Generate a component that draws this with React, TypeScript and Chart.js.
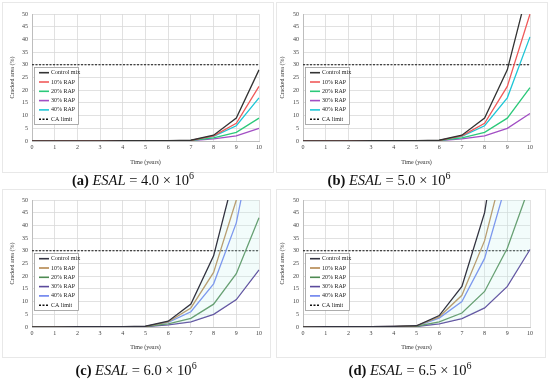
import React, { useEffect, useRef } from "react";
import { Chart, registerables } from "chart.js";

Chart.register(...registerables);

// ---------- data ----------
const YEARS = ["0", "1", "2", "3", "4", "5", "6", "7", "8", "9", "10"];
const SERIES_LABELS = ["Control mix", "10% RAP", "20% RAP", "30% RAP", "40% RAP"];
const CA_LIMIT_LABEL = "CA limit";
const CA_LIMIT = 30;
const Y_MAX = 50;
const Y_STEP = 5;
const X_TITLE = "Time (years)";
const Y_TITLE = "Cracked area (%)";

// (a) ESAL = 4.0 x 10^6
const A_CONTROL = [0, 0.02, 0.05, 0.08, 0.1, 0.13, 0.18, 0.3, 2.3, 9.0, 28.0];
const A_RAP10 = [0, 0.02, 0.05, 0.07, 0.09, 0.12, 0.16, 0.27, 2.0, 7.0, 21.5];
const A_RAP20 = [0, 0.01, 0.03, 0.05, 0.07, 0.09, 0.12, 0.2, 1.2, 3.4, 9.0];
const A_RAP30 = [0, 0.01, 0.02, 0.04, 0.05, 0.07, 0.1, 0.15, 0.8, 2.0, 5.0];
const A_RAP40 = [0, 0.02, 0.04, 0.06, 0.08, 0.11, 0.15, 0.25, 1.8, 6.0, 17.0];

// (b) ESAL = 5.0 x 10^6
const B_CONTROL = [0, 0.05, 0.08, 0.1, 0.13, 0.18, 0.3, 2.3, 9.0, 28.0, 63.0];
const B_RAP10 = [0, 0.05, 0.07, 0.09, 0.12, 0.16, 0.27, 2.0, 7.0, 21.5, 50.0];
const B_RAP20 = [0, 0.03, 0.05, 0.07, 0.09, 0.12, 0.2, 1.2, 3.4, 9.0, 21.0];
const B_RAP30 = [0, 0.02, 0.04, 0.05, 0.07, 0.1, 0.15, 0.8, 2.0, 5.0, 10.8];
const B_RAP40 = [0, 0.04, 0.06, 0.08, 0.11, 0.15, 0.25, 1.8, 6.0, 17.0, 41.0];

// (c) ESAL = 6.0 x 10^6
const C_CONTROL = [0, 0.08, 0.1, 0.13, 0.18, 0.3, 2.3, 9.0, 28.0, 63.0, 130.0];
const C_RAP10 = [0, 0.07, 0.09, 0.12, 0.16, 0.27, 2.0, 7.5, 21.5, 50.0, 105.0];
const C_RAP20 = [0, 0.05, 0.07, 0.09, 0.12, 0.2, 1.2, 3.4, 9.0, 21.0, 43.0];
const C_RAP30 = [0, 0.04, 0.05, 0.07, 0.1, 0.15, 0.8, 2.0, 5.0, 10.8, 22.5];
const C_RAP40 = [0, 0.06, 0.08, 0.11, 0.15, 0.25, 1.8, 6.0, 17.0, 41.0, 85.0];

// (d) ESAL = 6.5 x 10^6
const D_CONTROL = [0, 0.1, 0.13, 0.18, 0.25, 0.5, 4.5, 16.0, 45.0, 100.0, 200.0];
const D_RAP10 = [0, 0.09, 0.12, 0.16, 0.22, 0.45, 4.0, 12.5, 34.0, 69.0, 140.0];
const D_RAP20 = [0, 0.06, 0.08, 0.1, 0.15, 0.3, 2.0, 5.5, 14.0, 31.0, 56.0];
const D_RAP30 = [0, 0.04, 0.06, 0.08, 0.1, 0.2, 1.2, 3.3, 7.5, 16.0, 30.5];
const D_RAP40 = [0, 0.08, 0.1, 0.14, 0.2, 0.4, 3.5, 10.0, 27.0, 58.0, 120.0];

const CAPTION_LETTERS = ["(a)", "(b)", "(c)", "(d)"];
const CAPTION_ESAL = ["4.0", "5.0", "6.0", "6.5"];

// ---------- styles ----------
const COLORS_TOP = ["#333333", "#f05a5a", "#2cc97a", "#a24fc4", "#1fc6d6"];
const COLORS_BOTTOM = ["#333340", "#b5874f", "#4e8a52", "#5b4a9c", "#6a80ee"];
const SERIF = '"Liberation Serif", "Times New Roman", serif';
const FONT = { family: SERIF, size: 6 };

const legendBoxPlugin = {
  id: "legendBox",
  afterDatasetsDraw(chart: any) {
    const { ctx, chartArea } = chart;
    const x = Math.round(chartArea.left + 1.5);
    const y = Math.round(chartArea.top + 53);
    const w = 44;
    const h = 57;
    ctx.save();
    ctx.fillStyle = "#ffffff";
    ctx.fillRect(x, y, w, h);
    ctx.strokeStyle = "#9a9a9a";
    ctx.lineWidth = 0.8;
    ctx.strokeRect(x + 0.5, y + 0.5, w, h);
    chart.data.datasets.forEach((ds: any, i: number) => {
      const cy = y + 5.7 + i * 9.3;
      ctx.strokeStyle = ds.borderColor;
      ctx.lineWidth = 1.6;
      ctx.setLineDash(ds.borderDash || []);
      ctx.beginPath();
      ctx.moveTo(x + 5, cy);
      ctx.lineTo(x + 15, cy);
      ctx.stroke();
      ctx.setLineDash([]);
      ctx.fillStyle = "#222222";
      ctx.font = `6px ${SERIF}`;
      ctx.textBaseline = "middle";
      ctx.textAlign = "left";
      ctx.fillText(ds.label, x + 17, cy);
    });
    ctx.restore();
  },
};

type Rect = [number, number, number, number]; // left, top, right, bottom

interface PanelProps {
  frame: Rect;
  plot: Rect;
  yTitleX: number;
  series: number[][];
  colors: string[];
  shade: boolean;
  capIndex: number;
  capX: number;
  capY: number;
}

function Panel({ frame, plot, yTitleX, series, colors, shade, capIndex, capX, capY }: PanelProps) {
  const ref = useRef<HTMLCanvasElement>(null);
  const [fl, ft, fr, fb] = frame;
  const [pl, pt, pr, pb] = plot;
  const w = fr - fl;
  const h = fb - ft;

  useEffect(() => {
    if (!ref.current) return;
    const padBottom = 3;
    const datasets: any[] = series.map((d, i) => ({
      label: SERIES_LABELS[i],
      data: d,
      borderColor: colors[i],
      backgroundColor: "rgba(195, 240, 238, 0.22)",
      borderWidth: 1.3,
      pointRadius: 0,
      tension: 0,
      fill: shade && i === 0 ? 3 : false,
    }));
    datasets.push({
      label: CA_LIMIT_LABEL,
      data: YEARS.map(() => CA_LIMIT),
      borderColor: "#111111",
      borderDash: [2, 1.5],
      borderWidth: 1.1,
      pointRadius: 0,
      fill: false,
    });

    const chart = new Chart(ref.current, {
      type: "line",
      data: { labels: YEARS, datasets },
      options: {
        animation: false,
        responsive: false,
        maintainAspectRatio: false,
        devicePixelRatio: 1,
        layout: {
          padding: { left: 0, top: pt - ft, right: fr - pr, bottom: padBottom },
        },
        plugins: {
          legend: { display: false },
          tooltip: { enabled: false },
        },
        scales: {
          x: {
            type: "category",
            offset: false,
            grid: { color: "#d9d9d9", lineWidth: 0.8, drawTicks: false },
            border: { color: "#bdbdbd" },
            ticks: { font: FONT, color: "#404040", padding: 3, maxRotation: 0, autoSkip: false },
            title: {
              display: true,
              text: X_TITLE,
              font: FONT,
              color: "#333333",
              padding: { top: 0, bottom: 3 },
            },
            afterFit: (s: any) => {
              s.height = h - padBottom - (pb - ft);
            },
          },
          y: {
            min: 0,
            max: Y_MAX,
            grid: { color: "#d9d9d9", lineWidth: 0.8, drawTicks: false },
            border: { color: "#bdbdbd" },
            ticks: { stepSize: Y_STEP, font: FONT, color: "#404040", padding: 4 },
            title: {
              display: true,
              text: Y_TITLE,
              font: FONT,
              color: "#333333",
              padding: { top: Math.max(0, yTitleX - fl - 3.6), bottom: 0 },
            },
            afterFit: (s: any) => {
              s.width = pl - fl;
            },
          },
        },
      } as any,
      plugins: [legendBoxPlugin],
    });
    return () => chart.destroy();
  }, []);

  return (
    <>
      <div
        style={{
          position: "absolute",
          left: fl - 1,
          top: ft - 1,
          width: w,
          height: h,
          border: "1px solid #e8e8e8",
        }}
      />
      <canvas
        ref={ref}
        width={w}
        height={h}
        style={{ position: "absolute", left: fl, top: ft, width: w, height: h }}
      />
      <div
        style={{
          position: "absolute",
          left: capX - 110,
          top: capY - 11,
          width: 220,
          height: 22,
          lineHeight: "22px",
          textAlign: "center",
          fontFamily: SERIF,
          fontSize: 14.5,
          color: "#111",
          whiteSpace: "nowrap",
        }}
      >
        <b>{CAPTION_LETTERS[capIndex]}</b>
        {"  "}
        <i>ESAL</i> = {CAPTION_ESAL[capIndex]} × 10
        <sup style={{ fontSize: 10, lineHeight: 0, verticalAlign: "super" }}>6</sup>
      </div>
    </>
  );
}

export default function App() {
  return (
    <div
      style={{
        position: "absolute",
        left: 0,
        top: 0,
        width: 550,
        height: 380,
        background: "#ffffff",
        overflow: "hidden",
      }}
    >
      <Panel
        frame={[3, 3, 273, 172]}
        plot={[32, 14, 259, 141]}
        yTitleX={12}
        series={[A_CONTROL, A_RAP10, A_RAP20, A_RAP30, A_RAP40]}
        colors={COLORS_TOP}
        shade={false}
        capIndex={0}
        capX={133}
        capY={180}
      />
      <Panel
        frame={[277, 3, 547, 172]}
        plot={[303, 14, 530, 141]}
        yTitleX={282}
        series={[B_CONTROL, B_RAP10, B_RAP20, B_RAP30, B_RAP40]}
        colors={COLORS_TOP}
        shade={false}
        capIndex={1}
        capX={389}
        capY={180}
      />
      <Panel
        frame={[3, 190, 270, 357]}
        plot={[32, 200, 259, 327]}
        yTitleX={12}
        series={[C_CONTROL, C_RAP10, C_RAP20, C_RAP30, C_RAP40]}
        colors={COLORS_BOTTOM}
        shade={true}
        capIndex={2}
        capX={136}
        capY={370}
      />
      <Panel
        frame={[277, 190, 545, 357]}
        plot={[303, 200, 530, 327]}
        yTitleX={282}
        series={[D_CONTROL, D_RAP10, D_RAP20, D_RAP30, D_RAP40]}
        colors={COLORS_BOTTOM}
        shade={true}
        capIndex={3}
        capX={410}
        capY={370}
      />
    </div>
  );
}
